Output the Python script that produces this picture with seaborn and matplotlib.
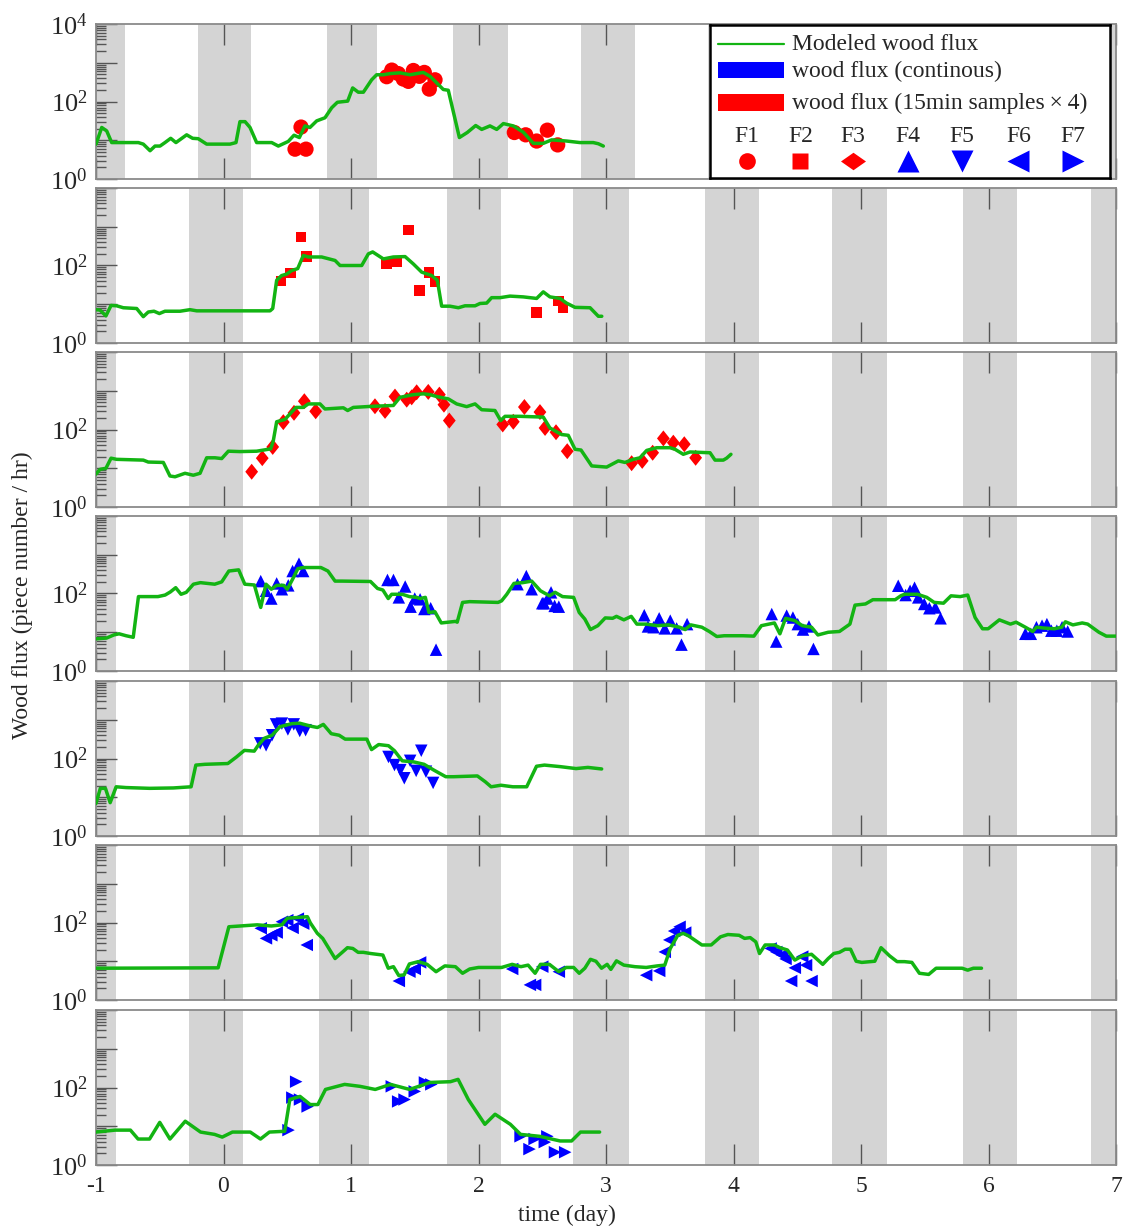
import numpy as np
import pandas as pd
import matplotlib
matplotlib.use("Agg")
import matplotlib.pyplot as plt
import seaborn as sns
from matplotlib.ticker import LogLocator, FuncFormatter, NullFormatter, FixedLocator
from matplotlib.lines import Line2D
from matplotlib.patches import Rectangle

# ---------------- data (day, log10 of flux) ----------------
P1_MODEL = [(-1.0,0.90),(-0.955,1.33),(-0.916,1.24),(-0.877,0.94),(-0.668,0.94),(-0.629,0.90),(-0.576,0.73),
            (-0.537,0.85),(-0.498,0.85),(-0.459,0.94),(-0.414,1.05),(-0.373,0.94),(-0.289,1.14),(-0.242,1.05),
            (-0.198,1.04),(-0.132,0.90),(0.051,0.90),(0.098,0.94),(0.129,1.48),(0.169,1.48),(0.208,1.33),
            (0.26,0.94),(0.378,0.94),(0.43,0.85),(0.508,0.97),(0.553,1.13),(0.595,1.07),(0.639,1.37),
            (0.678,1.33),(0.731,1.50),(0.796,1.58),(0.849,1.84),(0.893,1.98),(0.974,2.01),(1.013,2.35),
            (1.057,2.24),(1.097,2.24),(1.162,2.56),(1.201,2.69),(1.253,2.69),(1.306,2.72),(1.384,2.74),
            (1.463,2.69),(1.567,2.75),(1.62,2.65),(1.672,2.48),(1.724,2.31),(1.763,2.29),(1.85,1.07),
            (1.912,1.20),(1.978,1.38),(2.025,1.28),(2.09,1.37),(2.143,1.28),(2.195,1.43),(2.273,1.37),
            (2.351,1.21),(2.43,0.92),(2.508,0.92),(2.574,1.01),(2.69,0.98),(2.796,0.94),(2.9,0.94),
            (2.94,0.91),(2.979,0.85)]
P1_OBS = [(0.608,1.34),(0.561,0.77),(0.647,0.77),(1.28,2.64),(1.32,2.81),(1.371,2.72),(1.41,2.58),
          (1.45,2.52),(1.489,2.80),(1.536,2.65),(1.575,2.75),(1.614,2.32),(1.659,2.56),(2.281,1.20),
          (2.37,1.14),(2.456,0.98),(2.54,1.26),(2.621,0.88)]

P2_MODEL = [(-1.0,0.86),(-0.969,0.85),(-0.922,0.70),(-0.882,0.97),(-0.838,0.96),(-0.786,0.91),(-0.681,0.89),
            (-0.629,0.68),(-0.59,0.80),(-0.545,0.82),(-0.503,0.76),(-0.459,0.82),(-0.341,0.82),(-0.263,0.86),
            (-0.21,0.83),(0.365,0.83),(0.386,0.89),(0.417,1.62),(0.456,1.74),(0.496,1.78),(0.535,1.87),
            (0.582,1.92),(0.626,2.26),(0.665,2.22),(0.77,2.22),(0.875,2.13),(0.914,2.0),(1.084,2.0),
            (1.136,2.30),(1.17,2.35),(1.254,2.17),(1.332,2.22),(1.424,2.23),(1.489,2.04),(1.554,1.83),
            (1.633,1.74),(1.677,1.62),(1.711,0.95),(1.776,0.95),(1.842,0.91),(1.894,0.96),(1.973,0.96),
            (2.012,1.02),(2.064,1.03),(2.103,1.17),(2.169,1.17),(2.247,1.21),(2.351,1.19),(2.456,1.15),
            (2.508,1.32),(2.56,1.19),(2.639,1.15),(2.69,1.03),(2.757,0.92),(2.875,0.91),(2.94,0.69),
            (2.967,0.69)]
P2_OBS = [(0.451,1.60),(0.527,1.81),(0.608,2.74),(0.652,2.23),(1.28,2.04),(1.36,2.09),(1.45,2.91),
          (1.536,1.36),(1.614,1.82),(1.659,1.59),(2.456,0.79),(2.626,1.08),(2.665,0.91)]

P3_MODEL = [(-1.0,0.85),(-0.969,0.97),(-0.922,1.0),(-0.882,1.26),(-0.838,1.23),(-0.629,1.21),(-0.59,1.16),
            (-0.472,1.15),(-0.42,0.80),(-0.38,0.78),(-0.302,0.87),(-0.237,0.82),(-0.184,0.87),(-0.132,1.27),
            (-0.067,1.27),(-0.014,1.25),(0.038,1.44),(0.129,1.43),(0.26,1.44),(0.37,1.50),(0.39,1.70),
            (0.417,2.20),(0.482,2.26),(0.529,2.43),(0.569,2.57),(0.626,2.57),(0.665,2.66),(0.757,2.66),
            (0.796,2.53),(0.94,2.56),(0.974,2.49),(1.018,2.57),(1.175,2.60),(1.332,2.62),(1.384,2.83),
            (1.489,2.90),(1.567,2.92),(1.62,2.90),(1.672,2.85),(1.763,2.79),(1.829,2.66),(1.907,2.59),
            (1.973,2.66),(2.025,2.51),(2.129,2.49),(2.174,2.23),(2.208,2.34),(2.325,2.34),(2.508,2.32),
            (2.56,2.04),(2.613,1.94),(2.652,1.87),(2.704,1.85),(2.757,1.49),(2.804,1.47),(2.888,1.06),
            (3.005,1.03),(3.097,1.19),(3.149,1.15),(3.214,1.23),(3.267,1.27),(3.319,1.46),(3.397,1.53),
            (3.502,1.53),(3.541,1.49),(3.606,1.36),(3.659,1.42),(3.816,1.40),(3.855,1.21),(3.92,1.21),
            (3.946,1.26),(3.98,1.36)]
P3_OBS = [(0.221,0.91),(0.304,1.26),(0.386,1.55),(0.469,2.19),(0.553,2.43),(0.634,2.73),(0.723,2.47),
          (1.188,2.60),(1.267,2.48),(1.345,2.85),(1.437,2.77),(1.476,2.83),(1.515,2.96),(1.606,2.97),
          (1.693,2.90),(1.729,2.64),(1.771,2.23),(2.19,2.13),(2.273,2.20),(2.36,2.58),(2.482,2.45),
          (2.522,2.04),(2.608,1.93),(2.696,1.44),(3.201,1.13),(3.284,1.19),(3.366,1.40),(3.45,1.77),
          (3.528,1.66),(3.614,1.62),(3.703,1.27)]

P4_MODEL = [(-1.0,0.83),(-0.917,0.85),(-0.861,0.93),(-0.819,0.96),(-0.764,0.91),(-0.708,0.87),(-0.667,1.92),
            (-0.514,1.92),(-0.458,1.96),(-0.417,2.04),(-0.375,2.15),(-0.333,1.98),(-0.292,2.03),(-0.236,2.24),
            (-0.181,2.28),(-0.069,2.24),(-0.014,2.30),(0.042,2.58),(0.119,2.61),(0.167,2.24),(0.242,2.22),
            (0.292,1.64),(0.333,2.24),(0.375,2.11),(0.417,2.21),(0.472,2.21),(0.5,2.11),(0.542,2.37),
            (0.583,2.64),(0.625,2.67),(0.764,2.67),(0.819,2.58),(0.875,2.32),(0.931,2.32),(1.153,2.31),
            (1.208,2.13),(1.25,2.09),(1.292,1.87),(1.319,1.98),(1.403,1.98),(1.458,1.92),(1.514,1.90),
            (1.542,1.87),(1.583,1.90),(1.611,1.51),(1.658,1.53),(1.708,1.24),(1.764,1.26),(1.819,1.28),
            (1.833,1.26),(1.875,1.77),(1.931,1.79),(2.153,1.77),(2.181,1.81),(2.222,1.98),(2.278,2.26),
            (2.347,2.28),(2.417,2.32),(2.486,2.07),(2.556,1.94),(2.601,2.03),(2.659,1.92),(2.746,1.90),
            (2.79,1.51),(2.834,1.34),(2.878,1.07),(2.936,1.17),(2.994,1.37),(3.052,1.36),(3.082,1.41),
            (3.14,1.32),(3.198,1.41),(3.242,1.21),(3.315,1.21),(3.402,1.17),(3.49,1.19),(3.577,1.13),
            (3.621,1.07),(3.665,1.19),(3.752,1.13),(3.81,1.02),(3.869,0.89),(3.927,0.91),(4.073,0.91),
            (4.16,0.90),(4.219,1.17),(4.321,1.24),(4.364,0.96),(4.408,1.36),(4.481,1.30),(4.539,1.17),
            (4.612,1.13),(4.662,0.93),(4.743,1.00),(4.831,1.02),(4.913,1.21),(4.953,1.70),(5.035,1.73),
            (5.093,1.84),(5.268,1.84),(5.312,1.94),(5.341,1.98),(5.443,1.98),(5.516,1.90),(5.574,1.77),
            (5.647,1.75),(5.706,1.94),(5.778,1.92),(5.837,1.96),(5.895,1.38),(5.953,1.09),(5.997,1.09),
            (6.085,1.32),(6.172,1.21),(6.216,1.26),(6.289,1.13),(6.347,1.02),(6.376,1.13),(6.429,1.11),
            (6.516,1.09),(6.574,1.13),(6.603,1.27),(6.662,1.19),(6.735,1.24),(6.778,1.21),(6.866,1.00),
            (6.924,0.90),(7.0,0.90)]
P4_OBS = [(0.292,2.32),(0.333,2.07),(0.375,1.87),(0.417,2.26),(0.458,2.11),(0.508,2.21),(0.542,2.58),
          (0.592,2.77),(0.625,2.58),(1.286,2.35),(1.333,2.35),(1.375,1.90),(1.425,2.18),(1.467,1.66),
          (1.5,1.87),(1.542,1.85),(1.575,1.60),(1.625,1.62),(1.667,0.55),(2.306,2.24),(2.375,2.45),
          (2.417,2.11),(2.5,1.75),(2.542,1.87),(2.569,2.03),(2.597,1.68),(2.513,1.75),(2.63,1.66),
          (3.3,1.44),(3.329,1.15),(3.373,1.13),(3.417,1.36),(3.461,1.10),(3.504,1.30),(3.554,1.10),
          (3.592,0.68),(3.636,1.21),(4.3,1.47),(4.335,0.76),(4.417,1.43),(4.466,1.38),(4.504,1.21),
          (4.545,1.07),(4.592,1.15),(4.627,0.57),(5.292,2.20),(5.35,1.96),(5.385,2.07),(5.42,2.15),
          (5.449,1.90),(5.496,1.73),(5.536,1.62),(5.583,1.64),(5.624,1.36),(6.289,0.96),(6.332,0.96),
          (6.376,1.13),(6.42,1.17),(6.458,1.21),(6.493,1.04),(6.536,1.04),(6.577,1.13),(6.621,1.02)]

P5_MODEL = [(-1.0,0.84),(-0.966,1.23),(-0.926,1.23),(-0.889,0.86),(-0.842,1.27),(-0.765,1.25),(-0.579,1.23),
            (-0.393,1.24),(-0.254,1.27),(-0.217,1.83),(-0.146,1.85),(0.034,1.87),(0.102,2.04),(0.164,2.21),
            (0.241,2.19),(0.272,2.34),(0.319,2.52),(0.381,2.60),(0.443,2.82),(0.536,2.90),(0.598,2.91),
            (0.69,2.83),(0.737,2.80),(0.783,2.88),(0.845,2.64),(0.907,2.60),(0.954,2.50),(1.124,2.50),
            (1.161,2.23),(1.217,2.36),(1.294,2.33),(1.341,2.20),(1.402,1.94),(1.495,1.91),(1.573,1.85),
            (1.65,1.70),(1.743,1.53),(1.805,1.53),(1.991,1.55),(2.053,1.40),(2.099,1.27),(2.176,1.31),
            (2.269,1.27),(2.378,1.27),(2.455,1.80),(2.517,1.83),(2.641,1.79),(2.765,1.74),(2.858,1.77),
            (2.966,1.73)]
P5_OBS = [(0.288,2.39),(0.334,2.34),(0.381,2.60),(0.412,2.88),(0.458,2.90),(0.505,2.75),(0.551,2.88),
          (0.598,2.71),(0.644,2.73),(1.294,2.04),(1.341,1.83),(1.387,1.70),(1.418,1.49),(1.464,1.94),
          (1.511,1.68),(1.551,2.20),(1.588,1.66),(1.644,1.37)]

P6_MODEL = [(-1.0,0.82),(-0.042,0.83),(0.042,1.89),(0.264,1.94),(0.375,1.91),(0.458,1.94),(0.5,2.11),
            (0.583,2.13),(0.658,2.15),(0.681,1.99),(0.736,1.72),(0.778,1.59),(0.819,1.37),(0.875,1.07),
            (0.931,1.23),(0.972,1.35),(1.014,1.33),(1.056,1.23),(1.097,1.23),(1.153,1.20),(1.25,1.16),
            (1.292,0.82),(1.333,0.86),(1.375,0.63),(1.417,0.65),(1.458,0.93),(1.528,0.99),(1.597,0.92),
            (1.667,0.73),(1.736,0.88),(1.819,0.86),(1.875,0.69),(1.931,0.80),(2.0,0.84),(2.181,0.84),
            (2.264,0.92),(2.333,0.86),(2.389,0.90),(2.444,0.69),(2.486,0.92),(2.556,0.92),(2.63,0.73),
            (2.688,0.84),(2.746,0.84),(2.79,0.69),(2.834,0.82),(2.878,1.05),(2.921,1.00),(2.965,0.82),
            (3.009,0.92),(3.038,0.79),(3.082,1.01),(3.14,0.90),(3.227,0.86),(3.315,0.84),(3.402,0.88),
            (3.461,0.90),(3.504,1.33),(3.563,1.67),(3.606,1.72),(3.65,1.65),(3.752,1.42),(3.825,1.42),
            (3.898,1.63),(3.956,1.69),(4.044,1.67),(4.087,1.59),(4.131,1.61),(4.175,1.50),(4.204,1.20),
            (4.248,1.42),(4.321,1.42),(4.364,1.35),(4.423,1.29),(4.481,1.03),(4.539,1.14),(4.612,1.18),
            (4.7,0.92),(4.743,1.07),(4.787,1.20),(4.831,1.23),(4.875,1.31),(4.918,1.31),(4.962,1.00),
            (5.006,0.97),(5.108,1.00),(5.157,1.35),(5.224,1.14),(5.283,0.99),(5.341,0.99),(5.399,0.97),
            (5.458,0.69),(5.531,0.66),(5.589,0.82),(5.793,0.82),(5.837,0.77),(5.881,0.82),(5.945,0.82)]
P6_OBS = [(0.292,1.85),(0.333,1.59),(0.375,1.67),(0.417,1.74),(0.458,2.02),(0.5,2.06),(0.542,1.86),
          (0.583,2.10),(0.625,1.97),(0.653,1.42),(1.375,0.49),(1.458,0.73),(1.5,0.80),(1.542,0.97),
          (2.264,0.80),(2.403,0.39),(2.444,0.39),(2.5,0.86),(2.63,0.73),(3.315,0.64),(3.417,0.75),
          (3.461,1.24),(3.496,1.55),(3.534,1.78),(3.577,1.89),(3.621,1.74),(4.291,1.33),(4.335,1.24),
          (4.379,1.16),(4.408,1.06),(4.481,0.83),(4.539,1.12),(4.569,0.90),(4.452,0.49),(4.612,0.49)]

P7_MODEL = [(-1.0,0.85),(-0.85,0.90),(-0.73,0.90),(-0.67,0.67),(-0.58,0.67),(-0.5,1.10),(-0.42,0.67),
            (-0.3,1.13),(-0.18,0.85),(-0.07,0.79),(-0.01,0.72),(0.07,0.85),(0.21,0.85),(0.29,0.67),
            (0.36,0.85),(0.48,0.87),(0.52,1.69),(0.6,1.77),(0.68,1.56),(0.74,1.56),(0.8,1.95),(0.95,2.08),
            (1.07,2.03),(1.19,1.95),(1.31,2.08),(1.46,1.95),(1.62,2.13),(1.78,2.15),(1.84,2.21),(1.92,1.69),
            (2.05,1.05),(2.13,1.31),(2.25,1.05),(2.33,0.79),(2.48,0.74),(2.64,0.62),(2.73,0.62),(2.8,0.85),
            (2.95,0.85)]
P7_OBS = [(0.51,0.90),(0.54,1.74),(0.57,2.15),(0.6,1.69),(0.66,1.51),(1.32,2.03),(1.37,1.64),(1.42,1.69),
          (1.5,1.90),(1.58,2.13),(1.63,2.08),(2.33,0.74),(2.4,0.41),(2.44,0.67),(2.52,0.59),(2.6,0.33),
          (2.68,0.33),(2.54,0.74)]

# night periods (grey bands), day units
NIGHTS_P1 = [(-1.0,-0.773),(-0.2,0.216),(0.81,1.2),(1.8,2.23),(2.8,3.23),(3.8,4.23),(4.8,5.23),(5.8,6.23),(6.8,7.0)]
NIGHTS = [(-1.0,-0.84),(-0.27,0.15),(0.75,1.14),(1.75,2.18),(2.74,3.18),(3.78,4.2),(4.77,5.2),(5.8,6.22),(6.8,7.0)]

SITES = ["F1","F2","F3","F4","F5","F6","F7"]
X_TICKS = [-1, 0, 1, 2, 3, 4, 5, 6, 7]

# ---------------- style ----------------
sns.set_theme(style="white")
plt.rcParams["font.family"] = ["Liberation Serif", "DejaVu Serif"]
plt.rcParams["mathtext.fontset"] = "custom"
plt.rcParams["mathtext.rm"] = "Liberation Serif"
plt.rcParams["mathtext.it"] = "Liberation Serif:italic"
GREEN = "#13b413"
RED = "#ff0000"
BLUE = "#0000ff"
GREY = "#d4d4d4"
SPINE = "#8a8a8a"
FS = 17

diamond = [(-0.8, 0), (0, 1), (0.8, 0), (0, -1), (-0.8, 0)]
panels = [
    (P1_MODEL, P1_OBS, "o", RED, 11.0, NIGHTS_P1),
    (P2_MODEL, P2_OBS, "s", RED, 7.5, NIGHTS),
    (P3_MODEL, P3_OBS, diamond, RED, 11.5, NIGHTS),
    (P4_MODEL, P4_OBS, "^", BLUE, 9.0, NIGHTS),
    (P5_MODEL, P5_OBS, "v", BLUE, 9.0, NIGHTS),
    (P6_MODEL, P6_OBS, "<", BLUE, 9.0, NIGHTS),
    (P7_MODEL, P7_OBS, ">", BLUE, 9.0, NIGHTS),
]

W, H = 1128, 1232
fig = plt.figure(figsize=(W / 100, H / 100), dpi=100)
tops = [24, 188, 352, 516, 681, 845, 1010]
ph = 155
left, width = 96, 1020

axes = []
for i, (model, obs, mk, col, ms, nights) in enumerate(panels):
    ax = fig.add_axes([left / W, 1 - (tops[i] + ph) / H, width / W, ph / H])
    axes.append(ax)
    for a, b in nights:
        ax.axvspan(a, b, color=GREY, lw=0, zorder=0)
    dm = pd.DataFrame(model, columns=["day", "log"])
    dm["flux"] = 10 ** dm["log"]
    do = pd.DataFrame(obs, columns=["day", "log"])
    do["flux"] = 10 ** do["log"]
    sns.scatterplot(data=do, x="day", y="flux", ax=ax, marker=mk, s=ms ** 2, color=col,
                    edgecolor="none", linewidth=0, legend=False, zorder=2)
    sns.lineplot(data=dm, x="day", y="flux", ax=ax, color=GREEN, lw=2.5, estimator=None,
                 sort=False, legend=False, zorder=3)
    ax.set_yscale("log")
    ax.set_xlim(-1, 7)
    ax.set_ylim(1, 1e4)
    ax.set_xlabel("")
    ax.set_ylabel("")
    show = {0, 2, 4} if i == 0 else {0, 2}
    ax.yaxis.set_major_locator(LogLocator(base=10, numticks=10))
    ax.yaxis.set_minor_locator(LogLocator(base=10, subs=np.arange(2, 10), numticks=20))
    ax.yaxis.set_major_formatter(FuncFormatter(
        lambda v, p, show=show: (r"$10^{%d}$" % int(round(np.log10(v)))) if int(round(np.log10(v))) in show else ""))
    ax.yaxis.set_minor_formatter(NullFormatter())
    ax.xaxis.set_major_locator(FixedLocator(X_TICKS))
    ax.tick_params(axis="y", which="major", direction="in", length=15, width=1, color="#555555",
                   labelsize=FS + 2, pad=6, left=True, right=False)
    ax.tick_params(axis="y", which="minor", direction="in", length=7.5, width=1, color="#555555",
                   left=True, right=False)
    ax.tick_params(axis="x", which="major", direction="in", length=15, width=1, color="#555555",
                   labelsize=FS, top=True, bottom=True, pad=8)
    if i < len(panels) - 1:
        ax.set_xticklabels([])
    else:
        ax.set_xticklabels([str(t) for t in X_TICKS])
    for sp in ax.spines.values():
        sp.set_color(SPINE)
        sp.set_linewidth(1.3)
    ax.grid(False)

fig.text(567 / W, 1 - 1215 / H, "time (day)", ha="center", va="center", fontsize=FS)
fig.text(22 / W, 1 - 595 / H, "Wood flux (piece number / hr)", ha="center", va="center",
         rotation=90, fontsize=FS)

# ---------------- legend box in the first panel ----------------
ax1 = axes[0]
lg = ax1.inset_axes([0.602, 0.004, 0.392, 0.99])
lg.set_xlim(0, 1)
lg.set_ylim(0, 1)
lg.set_xticks([])
lg.set_yticks([])
lg.set_facecolor("white")
lg.set_zorder(10)
for sp in lg.spines.values():
    sp.set_color("black")
    sp.set_linewidth(1.8)
lg.add_line(Line2D([0.02, 0.184], [0.877, 0.877], color=GREEN, lw=1.6))
lg.add_patch(Rectangle((0.02, 0.655), 0.164, 0.105, color=BLUE, lw=0))
lg.add_patch(Rectangle((0.02, 0.44), 0.164, 0.108, color=RED, lw=0))
lg.text(0.206, 0.87, "Modeled wood flux", va="center", ha="left", fontsize=FS)
lg.text(0.206, 0.70, "wood flux (continous)", va="center", ha="left", fontsize=FS)
lg.text(0.206, 0.487, "wood flux (15min samples\u2009\u00d7\u20094)", va="center", ha="left", fontsize=FS)
site_x = [0.092, 0.226, 0.358, 0.495, 0.629, 0.771, 0.908]
site_mk = ["o", "s", [(-1, 0), (0, 0.7), (1, 0), (0, -0.7), (-1, 0)], "^", "v", "<", ">"]
site_ms = [12, 11, 18, 16, 16, 16, 16]
site_col = [RED, RED, RED, BLUE, BLUE, BLUE, BLUE]
for sx, name, mk, ms, c in zip(site_x, SITES, site_mk, site_ms, site_col):
    lg.text(sx, 0.275, name, ha="center", va="center", fontsize=FS)
    lg.plot([sx], [0.115], marker=mk, ms=ms, color=c, mec="none", ls="none")

fig.savefig("out.png", dpi=100)
